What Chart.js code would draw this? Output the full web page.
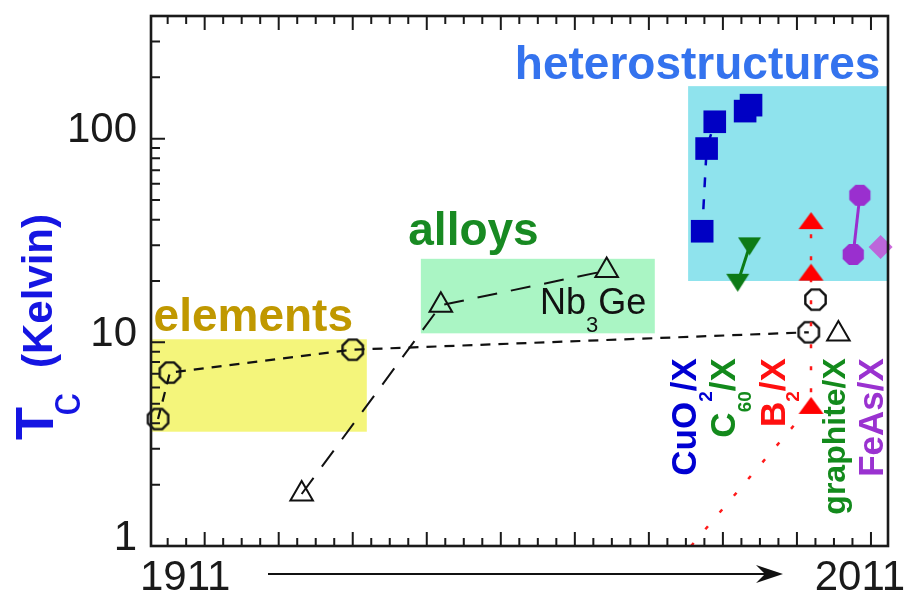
<!DOCTYPE html>
<html>
<head>
<meta charset="utf-8">
<script src="https://cdn.jsdelivr.net/npm/chart.js@4.4.1/dist/chart.umd.min.js"></script>
<style>
  html, body { margin: 0; padding: 0; background: #fff; }
</style>
</head>
<body>
<canvas id="myChart" width="904" height="593"></canvas>
<script>
// x values are positions along the schematic time axis (1911 -> 2011)
const elementYears = [1913.7, 1915.3, 1940.0, 2001.6];
const elementTc = [4.2, 7.1, 9.2, 11.2];
const pressureYears = [2002.5];
const pressureTc = [16.2];
const alloyYears = [1933.1, 1951.9, 1974.3];
const alloyTc = [1.8, 15.2, 22.5];
const graphiteYears = [2005.6];
const graphiteTc = [11.0];
const cuprateYears = [1987.2, 1987.8, 1988.9, 1993.0, 1993.8];
const cuprateTc = [35.1, 89.4, 121, 136.5, 146];
const fullerideYears = [1993.6, 1992.0];
const fullerideTc = [29.6, 19.6];
const borideYears = [1985.7, 2001.9, 2001.9, 2001.9];
const borideTc = [1, 4.9, 22.1, 39.6];
const pnictideYears = [2008.5, 2007.6];
const pnictideTc = [52.7, 27.0];
const interfaceYears = [2011.3];
const interfaceTc = [29.4];

// shaded groups: year range and Tc range
const regionNames = ['elements', 'alloys', 'heterostructures'];
const regionYears = [[1912.75, 1941.9], [1949.2, 1980.8], [1985.3, 2012.3]];
const regionTc = [[3.64, 10.35], [11.07, 25.7], [20.0, 181]];

const yTickValues = [1, 10, 100];
const xMajorTicks = [1920, 1930, 1940, 1950, 1960, 1970, 1980, 1990, 2000, 2010];

const FONT = '"Liberation Sans", Arial, Helvetica, sans-serif';

function pts(xs, ys) {
    return xs.map((x, i) => ({ x: x, y: ys[i] }));
}

// octagon markers drawn on a small canvas, used as pointStyle
function octagon(r, fill, stroke, lw) {
    const s = Math.ceil(2 * r + lw + 2);
    const c = document.createElement('canvas');
    c.width = s;
    c.height = s;
    const g = c.getContext('2d');
    g.beginPath();
    for (let i = 0; i < 8; i++) {
        const a = Math.PI / 8 + i * Math.PI / 4;
        const px = s / 2 + r * Math.cos(a);
        const py = s / 2 + r * Math.sin(a);
        if (i === 0) g.moveTo(px, py); else g.lineTo(px, py);
    }
    g.closePath();
    if (fill) { g.fillStyle = fill; g.fill(); }
    if (stroke) { g.strokeStyle = stroke; g.lineWidth = lw; g.stroke(); }
    return c;
}

// flat filled triangle, pointing up or down
function triangle(w, h, fill, down) {
    const c = document.createElement('canvas');
    c.width = w + 2;
    c.height = h + 2;
    const g = c.getContext('2d');
    g.beginPath();
    if (down) {
        g.moveTo(1, 1); g.lineTo(w + 1, 1); g.lineTo(w / 2 + 1, h + 1);
    } else {
        g.moveTo(w / 2 + 1, 1); g.lineTo(w + 1, h + 1); g.lineTo(1, h + 1);
    }
    g.closePath();
    g.fillStyle = fill;
    g.fill();
    return c;
}

const openOct = octagon(11, null, '#111', 2.4);
const purpleOct = octagon(11.5, '#9a2fcf', null, 0);
const redTri = triangle(25, 17, '#ff0000', false);
const greenTri = triangle(23, 18, '#0d7a16', true);

// draw a string made of pieces (for subscripts)
function richText(ctx, parts, x, y, angle, align) {
    ctx.save();
    ctx.translate(x, y);
    ctx.rotate(angle);
    ctx.textBaseline = 'alphabetic';
    ctx.textAlign = 'left';
    let total = 0;
    parts.forEach(p => { ctx.font = p.font; total += ctx.measureText(p.t).width; });
    let cx = align === 'right' ? -total : 0;
    parts.forEach(p => {
        ctx.font = p.font;
        ctx.fillStyle = p.color;
        ctx.fillText(p.t, cx, p.dy || 0);
        cx += ctx.measureText(p.t).width;
    });
    ctx.restore();
}

const boxColors = ['#f4f57b', '#aaf5c4', '#8fe3ed'];
const labelColors = ['#c09800', '#188a22', '#3473ee'];
const labelAnchors = [[1913.1, 11.4], [1947.5, 30.1], [1961.9, 196]];

const backgroundPlugin = {
    id: 'background',
    beforeDatasetsDraw(chart) {
        const ctx = chart.ctx;
        const xs = chart.scales.x, ys = chart.scales.y;
        const area = chart.chartArea;

        // coloured group boxes
        regionNames.forEach((name, i) => {
            const x0 = Math.max(xs.getPixelForValue(regionYears[i][0]), area.left);
            const x1 = Math.min(xs.getPixelForValue(regionYears[i][1]), area.right);
            const y0 = ys.getPixelForValue(regionTc[i][1]);
            const y1 = ys.getPixelForValue(regionTc[i][0]);
            ctx.fillStyle = boxColors[i];
            ctx.fillRect(x0, y0, x1 - x0, y1 - y0);
        });

        // group labels
        ctx.save();
        ctx.textBaseline = 'alphabetic';
        ctx.textAlign = 'left';
        ctx.font = 'bold 46px ' + FONT;
        regionNames.forEach((name, i) => {
            ctx.fillStyle = labelColors[i];
            ctx.fillText(name, xs.getPixelForValue(labelAnchors[i][0]), ys.getPixelForValue(labelAnchors[i][1]));
        });
        ctx.restore();

        // Nb3Ge
        richText(ctx, [
            { t: 'Nb', font: '36px ' + FONT, color: '#111' },
            { t: '3', font: '22px ' + FONT, color: '#111', dy: 18 },
            { t: 'Ge', font: '36px ' + FONT, color: '#111' }
        ], xs.getPixelForValue(1965.3), ys.getPixelForValue(13.7), 0, 'left');

        // vertical family labels
        const topY = ys.getPixelForValue(8.36);
        const big = 'bold 35px ' + FONT, sub = 'bold 19px ' + FONT;
        const fam = [
            [1986.4, '#0000d2', [{ t: 'CuO', font: big }, { t: '2', font: sub, dy: 16 }, { t: '/X', font: big }]],
            [1991.7, '#138a1c', [{ t: 'C', font: big }, { t: '60', font: sub, dy: 16 }, { t: '/X', font: big }]],
            [1998.4, '#ff1010', [{ t: 'B', font: big }, { t: '2', font: sub, dy: 14 }, { t: '/X', font: big }]],
            [2006.5, '#138a1c', [{ t: 'graphite/X', font: 'bold 32px ' + FONT }]],
            [2011.6, '#9a32d0', [{ t: 'FeAs/X', font: big }]]
        ];
        fam.forEach(f => {
            const parts = f[2].map(p => Object.assign({ color: f[1] }, p));
            richText(ctx, parts, xs.getPixelForValue(f[0]), topY, -Math.PI / 2, 'right');
        });

        // y axis title
        const blue = '#1515e2';
        richText(ctx, [
            { t: 'T', font: 'bold 54px ' + FONT, color: blue },
        ], area.left - 98, area.top + 424, -Math.PI / 2, 'left');
        richText(ctx, [
            { t: 'c', font: '46px ' + FONT, color: blue },
        ], area.left - 71, area.top + 400, -Math.PI / 2, 'left');
        richText(ctx, [
            { t: '(Kelvin)', font: 'bold 42px ' + FONT, color: blue },
        ], area.left - 99, area.top + 352, -Math.PI / 2, 'left');

        // time axis labels and arrow
        ctx.save();
        ctx.fillStyle = '#1a1a1a';
        ctx.font = '42px ' + FONT;
        ctx.textBaseline = 'alphabetic';
        ctx.textAlign = 'left';
        ctx.fillText('1911', area.left - 11, area.bottom + 44);
        ctx.textAlign = 'right';
        ctx.fillText('2011', area.right + 17, area.bottom + 44);
        const ay = area.bottom + 28;
        ctx.strokeStyle = '#111';
        ctx.lineWidth = 2;
        ctx.beginPath();
        ctx.moveTo(268, ay);
        ctx.lineTo(770, ay);
        ctx.stroke();
        ctx.fillStyle = '#111';
        ctx.beginPath();
        ctx.moveTo(783, ay);
        ctx.lineTo(756, ay - 9);
        ctx.lineTo(765, ay);
        ctx.lineTo(756, ay + 9);
        ctx.closePath();
        ctx.fill();
        ctx.restore();
    }
};

const framePlugin = {
    id: 'frame',
    afterDatasetsDraw(chart) {
        const ctx = chart.ctx;
        const xs = chart.scales.x, ys = chart.scales.y;
        const a = chart.chartArea;
        ctx.save();
        ctx.strokeStyle = '#1a1a1a';
        ctx.lineWidth = 2;
        ctx.beginPath();
        // x ticks, bottom and top, pointing inwards
        for (let v = 1912.5; v <= 2012.5; v += 2.5) {
            if (v < xs.min || v > xs.max) continue;
            const major = xMajorTicks.includes(v);
            const len = major ? 14 : 8;
            const px = xs.getPixelForValue(v);
            ctx.moveTo(px, a.bottom); ctx.lineTo(px, a.bottom - len);
            ctx.moveTo(px, a.top); ctx.lineTo(px, a.top + len);
        }
        // y ticks on the left, log spaced
        for (let d = 1; d <= 100; d *= 10) {
            for (let m = 1; m <= 9; m++) {
                const v = m * d;
                if (v < ys.min || v > ys.max) continue;
                const py = ys.getPixelForValue(v);
                const len = m === 1 ? 14 : 9;
                ctx.moveTo(a.left, py); ctx.lineTo(a.left + len, py);
            }
        }
        ctx.stroke();
        ctx.lineWidth = 2.6;
        ctx.strokeRect(a.left, a.top, a.right - a.left, a.bottom - a.top);
        ctx.restore();
    }
};

const ctx = document.getElementById('myChart').getContext('2d');
const myChart = new Chart(ctx, {
    type: 'line',
    data: {
        datasets: [
            {
                label: 'elements',
                data: pts(elementYears, elementTc),
                borderColor: '#111', borderWidth: 2.2, borderDash: [10, 8],
                pointStyle: openOct, pointRadius: 11,
                clip: false, order: 5
            },
            {
                label: 'elements (pressure)',
                data: pts(pressureYears, pressureTc),
                showLine: false,
                pointStyle: openOct, pointRadius: 11,
                clip: false, order: 5
            },
            {
                label: 'alloys',
                data: pts(alloyYears, alloyTc),
                borderColor: '#111', borderWidth: 2, borderDash: [20, 14],
                pointStyle: 'triangle', pointRadius: 13, pointBorderWidth: 2,
                pointBorderColor: '#111', pointBackgroundColor: 'rgba(0,0,0,0)',
                clip: false, order: 5
            },
            {
                label: 'graphite/X',
                data: pts(graphiteYears, graphiteTc),
                showLine: false,
                pointStyle: 'triangle', pointRadius: 13, pointBorderWidth: 2,
                pointBorderColor: '#111', pointBackgroundColor: 'rgba(0,0,0,0)',
                clip: false, order: 5
            },
            {
                label: 'CuO2/X',
                data: pts(cuprateYears, cuprateTc),
                borderColor: '#0000c4', borderWidth: 2.5, borderDash: [10, 12],
                pointStyle: 'rect', pointRadius: 16, pointBorderWidth: 0,
                pointBackgroundColor: '#0000c4',
                clip: false, order: 3
            },
            {
                label: 'C60/X',
                data: pts(fullerideYears, fullerideTc),
                borderColor: '#0d7a16', borderWidth: 3,
                pointStyle: greenTri, pointRadius: 12,
                clip: false, order: 3
            },
            {
                label: 'B2/X',
                data: pts(borideYears, borideTc),
                borderColor: '#ff1a1a', borderWidth: 2.5, borderDash: [4, 18],
                pointStyle: redTri, pointRadius: [0, 13, 13, 13],
                order: 1
            },
            {
                label: 'FeAs/X',
                data: pts(pnictideYears, pnictideTc),
                borderColor: '#9a2fcf', borderWidth: 3,
                pointStyle: purpleOct, pointRadius: 12,
                clip: false, order: 2
            },
            {
                label: 'FeAs/X interface',
                data: pts(interfaceYears, interfaceTc),
                showLine: false,
                pointStyle: 'rectRot', pointRadius: 12, pointBorderWidth: 0,
                pointBackgroundColor: 'rgba(196, 80, 214, 0.85)',
                clip: false, order: 2
            }
        ]
    },
    options: {
        responsive: false,
        animation: false,
        layout: { padding: { top: 13, right: 8, left: 0, bottom: 0 } },
        elements: { line: { tension: 0 } },
        plugins: {
            legend: { display: false },
            tooltip: { enabled: false }
        },
        scales: {
            x: {
                type: 'linear',
                min: 1912.75,
                max: 2012.3,
                grid: { display: false, drawTicks: false },
                border: { display: false },
                ticks: { display: false },
                afterFit: function(scale) {
                    scale.height = 47;
                    scale.paddingLeft = 0;
                    scale.paddingRight = 0;
                }
            },
            y: {
                type: 'logarithmic',
                min: 1,
                max: 400,
                grid: { display: false, drawTicks: false },
                border: { display: false },
                afterBuildTicks: function(scale) {
                    scale.ticks = yTickValues.map(v => ({ value: v, major: true }));
                },
                ticks: {
                    color: '#1a1a1a',
                    font: { family: FONT, size: 42 },
                    padding: 14,
                    labelOffset: -8,
                    autoSkip: false,
                    callback: function(value) { return String(value); }
                },
                afterFit: function(scale) {
                    scale.width = 151;
                    scale.paddingTop = 0;
                    scale.paddingBottom = 0;
                }
            }
        }
    },
    plugins: [backgroundPlugin, framePlugin]
});
</script>
</body>
</html>
